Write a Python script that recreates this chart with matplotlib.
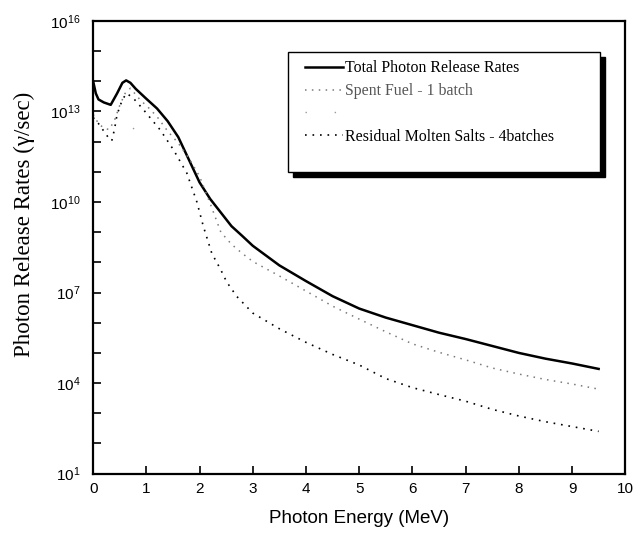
import numpy as np
import matplotlib.pyplot as plt
from matplotlib.patches import Rectangle

# ------------------- Data (log10 of photon release rate) ------------------- #
energy_total = [0.0, 0.05, 0.1, 0.2, 0.33, 0.45, 0.55, 0.62, 0.7, 0.8, 1.0, 1.2, 1.4, 1.6, 1.8,
                2.0, 2.2, 2.4, 2.6, 2.8, 3.0, 3.5, 4.0, 4.5, 5.0, 5.5, 6.0, 6.5, 7.0, 7.5,
                8.0, 8.5, 9.0, 9.5]
log_total = [14.0, 13.6, 13.4, 13.3, 13.22, 13.6, 13.95, 14.03, 13.95, 13.75, 13.42, 13.1, 12.68,
             12.15, 11.4, 10.65, 10.1, 9.65, 9.2, 8.88, 8.55, 7.9, 7.38, 6.88, 6.47, 6.17,
             5.92, 5.67, 5.46, 5.23, 5.0, 4.81, 4.65, 4.47]

energy_spent = [0.0, 0.1, 0.2, 0.3, 0.4, 0.5, 0.6, 0.7, 0.9, 1.0, 1.2, 1.4, 1.6, 1.8, 2.0,
                2.2, 2.4, 2.6, 2.8, 3.0, 3.5, 4.0, 4.5, 5.0, 5.5, 6.0, 6.5, 7.0, 7.5, 8.0,
                8.5, 9.0, 9.5]
log_spent = [12.9, 12.6, 12.45, 12.4, 12.7, 13.2, 13.6, 13.77, 13.35, 13.2, 12.83, 12.35, 11.95,
             11.45, 10.85, 9.95, 9.0, 8.6, 8.3, 8.03, 7.55, 7.05, 6.55, 6.12, 5.7, 5.3, 5.02,
             4.77, 4.5, 4.3, 4.12, 3.97, 3.8]

energy_resid = [0.0, 0.1, 0.2, 0.3, 0.35, 0.4, 0.45, 0.55, 0.63, 0.75, 0.95, 1.26, 1.51, 1.76,
                1.95, 2.07, 2.23, 2.4, 2.51, 2.7, 3.0, 3.5, 4.0, 4.5, 5.0, 5.5, 6.0, 6.5, 7.0,
                7.5, 8.0, 8.5, 9.0, 9.5]
log_resid = [12.8, 12.6, 12.35, 12.1, 12.03, 12.4, 12.9, 13.4, 13.6, 13.45, 13.05, 12.39, 11.73,
             10.96, 10.0, 9.2, 8.3, 7.75, 7.35, 6.87, 6.32, 5.8, 5.35, 4.95, 4.6, 4.15, 3.85,
             3.62, 3.4, 3.13, 2.91, 2.72, 2.56, 2.4]

# faint, unlabeled series (only a couple of dots visible)
energy_faint = [0.75, 1.07]
log_faint = [12.45, 11.9]

labels = ['Total Photon Release Rates', 'Spent Fuel - 1 batch', ' ',
          'Residual Molten Salts - 4batches']
ytick_exp = [1, 4, 7, 10, 13, 16]

# ------------------- Plot ------------------- #
plt.rcParams['mathtext.default'] = 'regular'
fig = plt.figure(figsize=(6.38, 5.37), dpi=100)
ax = fig.add_axes([0.146, 0.118, 0.834, 0.843])

ax.plot(energy_total, 10 ** np.array(log_total), color='black', lw=1.8, label=labels[0])
ax.plot(energy_spent, 10 ** np.array(log_spent), color='#7a7a7a', lw=1.1,
        linestyle=(0, (1, 3.5)), label=labels[1])
ax.plot(energy_faint, 10 ** np.array(log_faint), color='#9a9a9a', lw=1.0,
        linestyle=(0, (1, 20)), label=labels[2])
ax.plot(energy_resid, 10 ** np.array(log_resid), color='black', lw=1.2,
        linestyle=(0, (1, 3.5)), label=labels[3])

ax.set_yscale('log')
ax.set_xlim(0, 10)
ax.set_ylim(1e1, 1e16)
ax.set_xticks(range(11))
ax.set_yticks([10.0 ** k for k in range(1, 17)])
ax.set_yticklabels([f'$10^{{{k}}}$' if k in ytick_exp else '' for k in range(1, 17)])
ax.minorticks_off()
ax.tick_params(direction='in', length=6, width=1.2, labelsize=11, top=False, right=False)
ax.tick_params(axis='x', pad=6)
ax.tick_params(axis='y', pad=9)
for lab in ax.get_xticklabels() + ax.get_yticklabels():
    lab.set_family('Liberation Sans')
for s in ax.spines.values():
    s.set_linewidth(1.6)

ax.set_xlabel('Photon Energy (MeV)', family='Liberation Sans', fontsize=13.5, labelpad=10)
ax.set_ylabel('Photon Release Rates (\u03b3/sec)', family='Liberation Serif', fontsize=16.5)
ax.yaxis.set_label_coords(-0.11, 0.55)

# legend box with a solid drop shadow
bx0, by0, bw, bh = 0.3665, 0.6664, 0.5865, 0.2651
ax.add_patch(Rectangle((bx0 + 0.0095, by0 - 0.011), bw, bh, transform=ax.transAxes,
                       facecolor='black', edgecolor='black', zorder=4))
ax.add_patch(Rectangle((bx0, by0), bw, bh, transform=ax.transAxes,
                       facecolor='white', edgecolor='black', lw=1.0, zorder=5))
leg = ax.legend(loc='upper left', bbox_to_anchor=(0.399, 0.913), frameon=False,
                prop={'family': 'Liberation Serif', 'size': 11.4},
                handlelength=2.4, handletextpad=0.12, labelspacing=0.43, borderpad=0,
                borderaxespad=0)
leg.set_zorder(6)
leg.get_texts()[1].set_color('#555555')

fig.savefig('out.png', dpi=100)
